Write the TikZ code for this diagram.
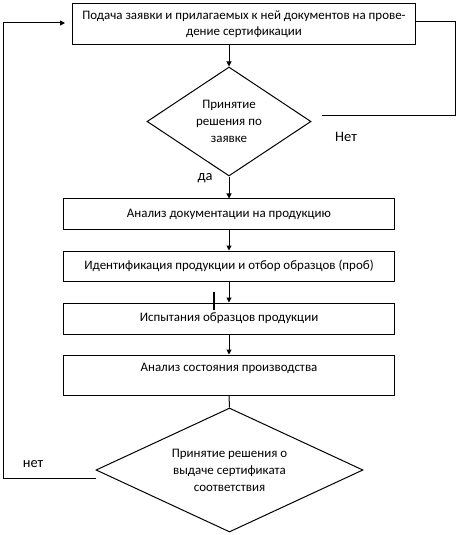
\documentclass[tikz,border=0pt]{standalone}
\usepackage{fontspec}
\setmainfont{Carlito}
\usetikzlibrary{shapes.geometric,arrows.meta,calc}
\begin{document}
\begin{tikzpicture}[x=1bp,y=-1bp,
  line width=1bp,
  every node/.style={font=\fontsize{13}{17}\selectfont},
  box/.style={draw,rectangle,inner sep=0pt,align=center,minimum width=330bp},
  dia/.style={draw,diamond,inner sep=0pt},
  diatext/.style={inner sep=0pt,align=center},
  arr/.style={-{Triangle[length=5bp,width=5bp]}},
  lbl/.style={inner sep=0pt,font=\fontsize{14.5}{16}\selectfont}]
\useasboundingbox (0,0) rectangle (459,535);
\node[box,minimum width=342bp,minimum height=41bp,font=\fontsize{13}{16}\selectfont] (top) at (244,24.5)
  {Подача заявки и прилагаемых к ней документов на прове-\\дение сертификации};
\node[dia,minimum width=164bp,minimum height=109bp] (d1) at (229,121.5) {};
\node[diatext] (d1t) at (d1.center) {Принятие\\решения по\\заявке};
\node[box,minimum height=30bp] (b2) at (229,214) {Анализ документации на продукцию};
\node[box,minimum height=30bp] (b3) at (229,266) {Идентификация продукции и отбор образцов (проб)};
\node[box,minimum height=31bp] (b4) at (229,318.5) {Испытания образцов продукции};
\node[box,minimum height=40bp,text height=16bp,text depth=24bp] (b5) at (229,375) {Анализ состояния производства};
\node[dia,minimum width=267bp,minimum height=124bp] (d2) at (229.5,470) {};
\node[diatext] (d2t) at (d2.center) {Принятие решения о\\выдаче сертификата\\соответствия};
\node[lbl] (no1) at (346,137) {Нет};
\node[lbl] (yes1) at (205,178) {да};
\node[lbl] (no2) at (33,464) {нет};
\coordinate (r1) at (322,116);
\coordinate (r2) at (455,22);
\coordinate (l1) at (96,478);
\coordinate (l2) at (3,23);
\coordinate (l3) at (65,23);
\draw[arr] (top.south -| d1.north) -- (d1.north);
\draw[arr] (d1.south) -- (b2.north);
\draw[arr] (b2.south) -- (b3.north);
\draw[arr] (b3.south) -- (b4.north);
\draw[arr] (b4.south) -- (b5.north);
\draw (b5.south) -- (d2.north);
\draw (r1) -| (r2) -- (r2 -| top.east);
\draw[arr] (l1) -| (l2) -- (l3);
\draw[line width=1.8bp] (214,292) -- (214,310);
\end{tikzpicture}
\end{document}
